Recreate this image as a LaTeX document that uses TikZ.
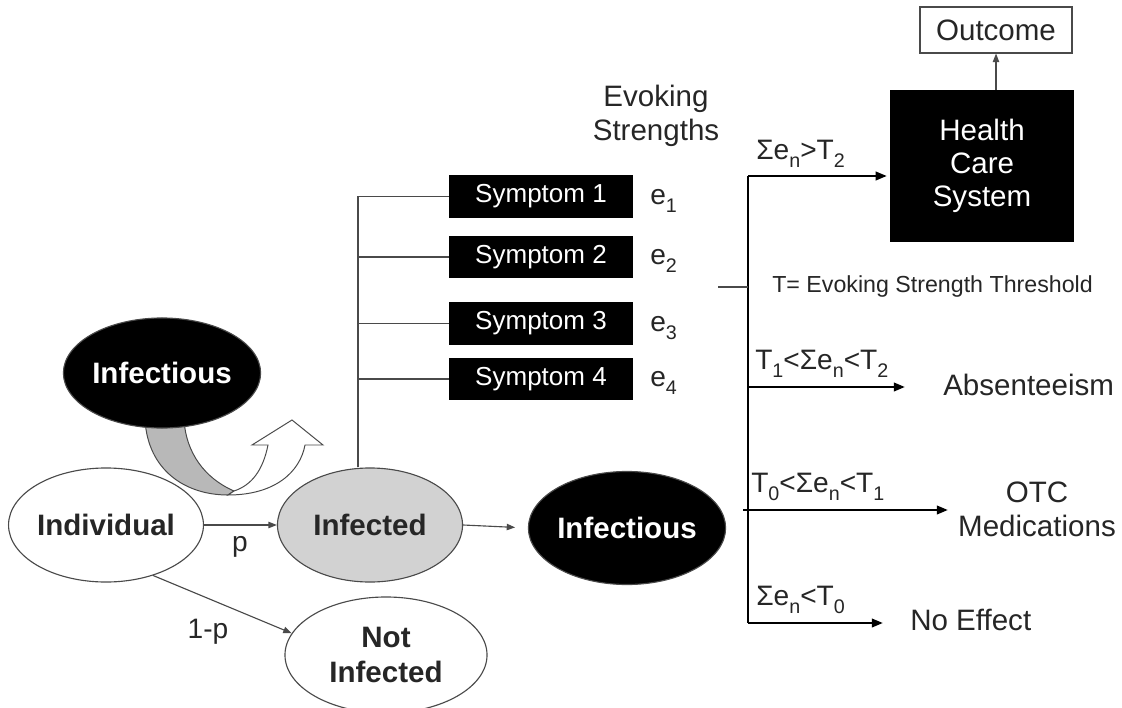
\documentclass[tikz,border=0pt]{standalone}
\usepackage{fontspec}
\setmainfont{Liberation Sans}
\usetikzlibrary{shapes.geometric,arrows.meta,calc}

\definecolor{inkgray}{HTML}{4A4A4A}
\definecolor{infgray}{HTML}{D2D2D2}
\definecolor{bandgray}{HTML}{B8B8B8}
\definecolor{txt}{HTML}{262626}

% lowered, reduced index used in the threshold labels
\newcommand{\lowidx}[1]{\raisebox{-0.55ex}{\fontsize{14}{14}\selectfont #1}}

\tikzset{
  phase/.style={ellipse, draw=inkgray, line width=0.8pt, inner sep=0pt,
    align=center, text=txt, font=\fontsize{21}{25}\selectfont\bfseries},
  darkphase/.style={phase, fill=black, text=white},
  symbox/.style={fill=black, text=white, minimum width=4.6cm,
    minimum height=1.05cm, inner sep=0pt, font=\fontsize{18.5}{22}\selectfont},
  lbl/.style={text=txt, inner sep=0pt, font=\fontsize{20}{24}\selectfont},
  biglbl/.style={text=txt, inner sep=0pt, align=center,
    font=\fontsize{21}{24}\selectfont},
  thinline/.style={draw=inkgray, line width=0.8pt},
  thinarrow/.style={thinline, -{Triangle[length=6pt,width=4.5pt]}},
  barline/.style={draw=black, line width=1.8pt},
  bararrow/.style={barline, -{Triangle[length=8pt,width=6pt]}},
  band/.style={draw=inkgray, line width=0.7pt}
}

\begin{document}
\begin{tikzpicture}[x=0.025cm, y=-0.025cm]
\useasboundingbox (0,0) rectangle (1122,708);
\clip (0,0) rectangle (1122,708);
\fill[white] (0,0) rectangle (1122,708);

% --- progression of an individual ---
\node[phase, minimum width=4.55cm, minimum height=2.85cm] (indiv) at (106,525) {Individual};
\node[phase, fill=infgray, minimum width=4.625cm, minimum height=2.85cm] (infected) at (370,525) {Infected};
\node[phase, minimum width=5.05cm, minimum height=2.9cm] (notinf) at (386,655) {Not\\Infected};
\node[darkphase, minimum width=4.875cm, minimum height=2.825cm] (infB) at (627,528) {Infectious};

% curved transmission arrow (back part grey, front part white)
\path[band, fill=bandgray] (145,405) -- (145,420)
  .. controls (148,470) and (185,495) .. (228,495)
  -- (234,491)
  .. controls (204,478) and (186,452) .. (184,420) -- (184,405) -- cycle;
\path[band, fill=white] (228,495)
  .. controls (275,495) and (300,472) .. (305,445)
  -- (323,445) -- (292,420) -- (252,445) -- (268,445)
  .. controls (263,470) and (252,485) .. (234,491) -- cycle;

\node[darkphase, minimum width=4.75cm, minimum height=2.75cm] (infA) at (162,373) {Infectious};

\draw[thinarrow] (indiv.east) -- (infected.west);
\node[lbl] (plbl) at (240,547) {p};
\draw[thinarrow] (indiv.-47) -- (notinf.167);
\node[lbl] (qlbl) at (208,632) {1-p};
\draw[thinarrow, shorten >=9pt] (infected.east) -- (infB.west);

% --- symptoms ---
\node[symbox] (s1) at (541,196.5) {Symptom 1};
\node[symbox] (s2) at (541,257) {Symptom 2};
\node[symbox] (s3) at (541,323.5) {Symptom 3};
\node[symbox] (s4) at (541,379) {Symptom 4};
\foreach \k in {1,...,4}{
  \node[lbl, anchor=west] (e\k) at ([yshift=-3pt]s\k.east -| 650,0) {e\lowidx{\k}};
}
\coordinate (trunk) at (358,196.5);
\draw[thinline] (trunk |- infected.north) -- (trunk);
\foreach \k in {1,...,4}{
  \draw[thinline] (s\k.west -| trunk) -- (s\k.west);
}

\node[biglbl] (evoke) at (656,116) {Evoking\\Strengths};

% --- outcomes by evoking strength ---
\node[draw=inkgray, line width=0.8pt, minimum width=3.8cm, minimum height=1.15cm,
  inner sep=0pt, text=txt, font=\fontsize{21}{24}\selectfont] (outcome) at (996,30) {Outcome};
\node[fill=black, text=white, minimum width=4.6cm, minimum height=3.8cm, inner sep=0pt,
  align=center, font=\fontsize{21}{23.6}\selectfont] (hcs) at (982,166) {Health\\Care\\System};
\draw[thinarrow] (outcome.south |- hcs.north) -- (outcome.south);

\coordinate (bartop) at (748,176);
\coordinate (barbot) at (748,623);
\draw[barline] (bartop) -- (barbot);

\coordinate (stub) at (718,287);
\draw[thinline] (stub) -- (stub -| bartop);
\node[text=txt, inner sep=0pt, anchor=west, font=\fontsize{16.5}{20}\selectfont] (tdef) at (772,287) {T= Evoking Strength Threshold};

\node[biglbl, anchor=west] (absent) at (943,385) {Absenteeism};
\node[biglbl] (otc) at (1037,509) {OTC\\Medications};
\node[biglbl, anchor=west] (noeff) at (910,620) {No Effect};

\coordinate (bAbs) at (748,387);
\coordinate (bOtc) at (743,510);
\coordinate (absEnd) at (905,387);
\coordinate (otcEnd) at (948,510);
\coordinate (noEnd) at (883,623);

\draw[bararrow, shorten >=2pt] (bartop) -- (bartop -| hcs.west);
\draw[bararrow] (bAbs) -- (absEnd);
\draw[bararrow] (bOtc) -- (otcEnd);
\draw[bararrow] (barbot) -- (noEnd);

\node[lbl, anchor=south west] (c2) at (756,168) {Σe\lowidx{n}>T\lowidx{2}};
\node[lbl, anchor=south west] (c1) at (755,378) {T\lowidx{1}<Σe\lowidx{n}<T\lowidx{2}};
\node[lbl, anchor=south west] (c0) at (751,501) {T\lowidx{0}<Σe\lowidx{n}<T\lowidx{1}};
\node[lbl, anchor=south west] (cn) at (756,614) {Σe\lowidx{n}<T\lowidx{0}};
\end{tikzpicture}
\end{document}
